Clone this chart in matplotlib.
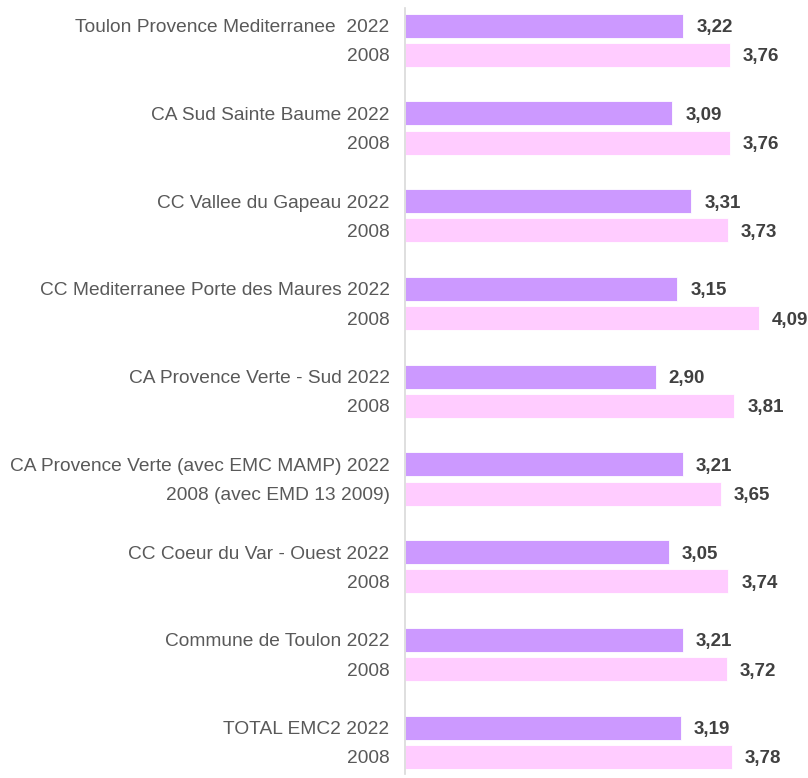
import matplotlib
matplotlib.use("Agg")
from matplotlib import pyplot as plt

plt.rcParams['font.family'] = ['Liberation Sans', 'DejaVu Sans']

# one entry per territory, top to bottom
labels_2022 = [
    "Toulon Provence Mediterranee  2022",
    "CA Sud Sainte Baume 2022",
    "CC Vallee du Gapeau 2022",
    "CC Mediterranee Porte des Maures 2022",
    "CA Provence Verte - Sud 2022",
    "CA Provence Verte (avec EMC MAMP) 2022",
    "CC Coeur du Var - Ouest 2022",
    "Commune de Toulon 2022",
    "TOTAL EMC2 2022",
]
labels_2008 = ["2008", "2008", "2008", "2008", "2008",
               "2008 (avec EMD 13 2009)", "2008", "2008", "2008"]
values_2022 = [3.22, 3.09, 3.31, 3.15, 2.90, 3.21, 3.05, 3.21, 3.19]
values_2008 = [3.76, 3.76, 3.73, 4.09, 3.81, 3.65, 3.74, 3.72, 3.78]

c2022 = '#CC99FF'
c2008 = '#FFCCFF'

fig = plt.figure(figsize=(8.08, 7.78), dpi=100)
ax = fig.add_axes([0.501, 0.0045, 0.499, 0.985])

y22 = [3 * i for i in range(len(values_2022))]
y08 = [3 * i + 1 for i in range(len(values_2008))]

ax.barh(y22, values_2022, height=0.82, color=c2022, edgecolor='white', linewidth=0.6)
ax.barh(y08, values_2008, height=0.82, color=c2008, edgecolor='white', linewidth=0.6)

for y, v in zip(y22 + y08, values_2022 + values_2008):
    ax.text(v + 0.15, y, f"{v:.2f}".replace('.', ','), va='center_baseline', ha='left',
            fontsize=13.5, fontweight='bold', color='#404040', clip_on=False)

ticks = []
ticklabels = []
for i in range(len(values_2022)):
    ticks += [y22[i], y08[i]]
    ticklabels += [labels_2022[i], labels_2008[i]]
ax.set_yticks(ticks)
ax.set_yticklabels(ticklabels, fontsize=13.75, color='#595959', va='center_baseline')
ax.tick_params(axis='y', length=0, pad=11)

ax.set_xlim(0, 4.66)
ax.set_ylim(25.6, -0.6)
ax.set_xticks([])
for s in ['top', 'right', 'bottom']:
    ax.spines[s].set_visible(False)
ax.spines['left'].set_color('#D9D9D9')
ax.spines['left'].set_linewidth(1.2)

fig.savefig("out.png", dpi=100)
